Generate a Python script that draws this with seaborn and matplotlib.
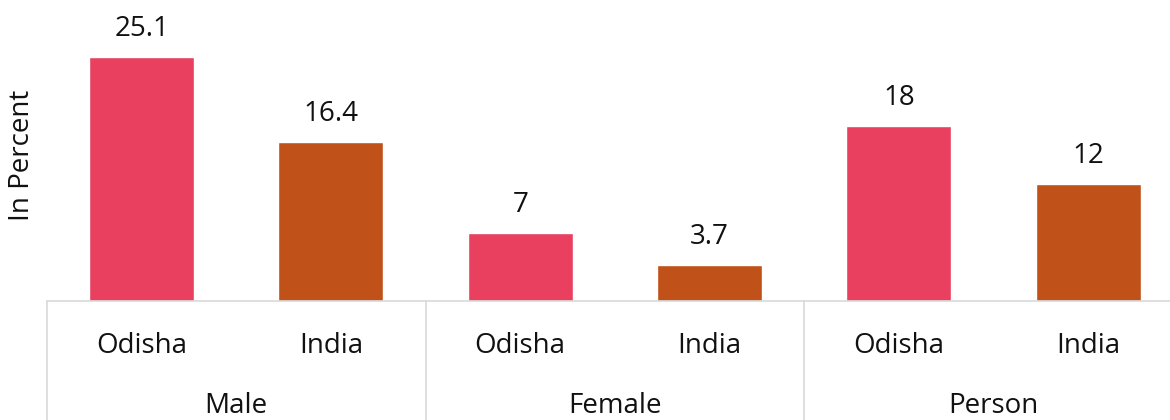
import matplotlib
matplotlib.use("Agg")
import matplotlib.pyplot as plt
import seaborn as sns
import pandas as pd

groups = ["Male", "Male", "Female", "Female", "Person", "Person"]
regions = ["Odisha", "India", "Odisha", "India", "Odisha", "India"]
values = [25.1, 16.4, 7, 3.7, 18, 12]
value_labels = ["25.1", "16.4", "7", "3.7", "18", "12"]
group_names = ["Male", "Female", "Person"]
palette = {"Odisha": "#E8405E", "India": "#C05118"}

sns.set_theme(style="white")
plt.rcParams["font.family"] = ["Open Sans", "DejaVu Sans"]

df = pd.DataFrame({
    "key": [f"{g}|{r}" for g, r in zip(groups, regions)],
    "group": groups,
    "region": regions,
    "value": values,
})

W, H = 1170, 420
fig = plt.figure(figsize=(W / 100, H / 100), dpi=100)
ax_left = 47 / W
ax_bottom = (H - 301) / H
ymax = 30
px_per_unit = 244 / 25.1
ax_h = ymax * px_per_unit / H
ax_w = 6 * 189.3 / W
ax = fig.add_axes([ax_left, ax_bottom, ax_w, ax_h])

sns.barplot(data=df, x="key", y="value", hue="region", palette=palette,
            dodge=False, width=0.555, legend=False, ax=ax, saturation=1)

ax.set_xlim(-0.5, 5.5)
ax.set_ylim(0, ymax)
ax.set_xticks([])
ax.set_yticks([])
ax.set_xlabel("")
ax.set_ylabel("")
for s in ["top", "right", "left"]:
    ax.spines[s].set_visible(False)
ax.spines["bottom"].set_color("#D9D9D9")
ax.spines["bottom"].set_linewidth(1.2)

fs = 20
tc = "#111111"
pt = 72 / 100  # points per pixel
for i, (v, lab) in enumerate(zip(values, value_labels)):
    ax.annotate(lab, (i, v), xytext=(0, 21 * pt), textcoords="offset points",
                ha="center", va="baseline", fontsize=fs, color=tc)
    ax.annotate(regions[i], (i, 0), xycoords=("data", "axes fraction"),
                xytext=(0, -52 * pt), textcoords="offset points",
                ha="center", va="baseline", fontsize=fs, color=tc,
                annotation_clip=False)

for j, g in enumerate(group_names):
    ax.annotate(g, (2 * j + 0.5, 0), xycoords=("data", "axes fraction"),
                xytext=(0, -112 * pt), textcoords="offset points",
                ha="center", va="baseline", fontsize=fs, color=tc,
                annotation_clip=False)

bottom_frac = -(H - 301) / (ymax * px_per_unit)
for xb in [-0.5, 1.5, 3.5, 5.5]:
    ax.plot([xb, xb], [0, bottom_frac], transform=ax.get_xaxis_transform(),
            color="#D9D9D9", lw=1.2, clip_on=False)

fig.text(22 / W, 1 - 155 / H, "In Percent", rotation=90, ha="center",
         va="center", fontsize=fs, color=tc)

fig.savefig("out.png", dpi=100)
